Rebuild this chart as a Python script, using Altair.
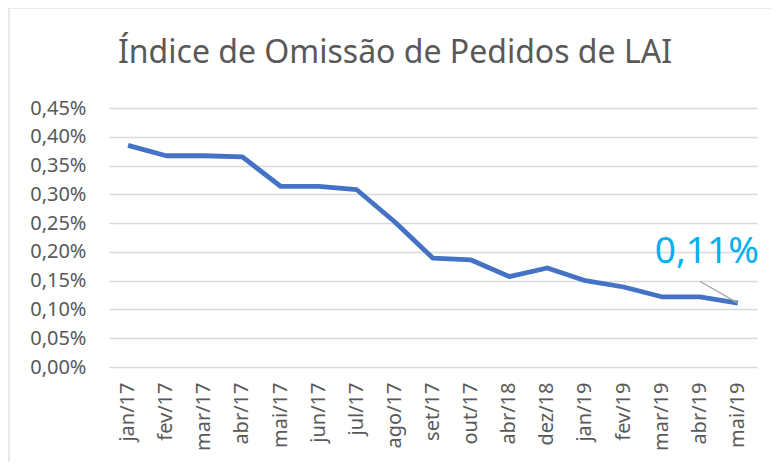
import altair as alt
import pandas as pd

months = ["jan/17", "fev/17", "mar/17", "abr/17", "mai/17", "jun/17", "jul/17",
          "ago/17", "set/17", "out/17", "abr/18", "dez/18", "jan/19", "fev/19",
          "mar/19", "abr/19", "mai/19"]
# values in percent
values = [0.385, 0.367, 0.367, 0.365, 0.314, 0.314, 0.308,
          0.252, 0.189, 0.186, 0.157, 0.172, 0.150, 0.139,
          0.122, 0.122, 0.111]
y_ticks = [0.0, 0.05, 0.10, 0.15, 0.20, 0.25, 0.30, 0.35, 0.40, 0.45]
label_text = ["0,11%"]
label_month = ["abr/19"]
label_y = [0.181]
leader_from = ["mai/19"]
leader_to = ["abr/19"]
leader_y = [0.111]
leader_y2 = [0.149]

df = pd.DataFrame({"mes": months, "valor": values})
ann = pd.DataFrame({"mes": label_month, "y": label_y, "t": label_text})
lead = pd.DataFrame({"a": leader_from, "b": leader_to, "y": leader_y, "y2": leader_y2})

FONT = "Noto Sans"
GREY = "#595959"

x_scale = alt.Scale(domain=months, paddingInner=0, paddingOuter=0)
x_enc = alt.X("mes:N", sort=months, scale=x_scale,
              axis=alt.Axis(title=None, labelAngle=-90, labelFont=FONT, labelFontSize=20,
                            labelColor=GREY, ticks=False, domain=False, labelPadding=15,
                            grid=False, labelOverlap=False))
y_scale = alt.Scale(domain=[0, 0.45], nice=False, zero=True)

frame = alt.Chart(df).mark_rect(filled=False, stroke="#d9d9d9", strokeWidth=1.2).encode(
    x=alt.value(-100), x2=alt.value(700), y=alt.value(-100), y2=alt.value(400)
).transform_filter("datum.mes == 'jan/17'")

line = alt.Chart(df).mark_line(color="#4472C4", strokeWidth=4.8, strokeJoin="round").encode(
    x=x_enc,
    y=alt.Y("valor:Q", scale=y_scale,
            axis=alt.Axis(title=None, values=y_ticks, tickCount=10, labelOverlap=False,
                          labelFont=FONT, labelFontSize=20,
                          labelColor=GREY, ticks=False, domain=False, labelPadding=23,
                          gridColor="#d9d9d9", gridWidth=1.3,
                          labelExpr="replace(format(datum.value, '.2f'), '.', ',') + '%'")),
)

leader = alt.Chart(lead).mark_rule(color="#a6a6a6", strokeWidth=1.3).encode(
    x=alt.X("a:N", sort=months, scale=x_scale),
    x2=alt.X2("b:N"),
    y=alt.Y("y:Q", scale=y_scale),
    y2="y2:Q",
)

label = alt.Chart(ann).mark_text(color="#00B0F0", font=FONT, fontSize=37,
                                 baseline="alphabetic", align="center", dx=7).encode(
    x=alt.X("mes:N", sort=months, scale=x_scale),
    y=alt.Y("y:Q", scale=y_scale),
    text="t:N",
)

chart = alt.layer(frame, line, leader, label).properties(
    width=648, height=259,
    title=alt.TitleParams("Índice de Omissão de Pedidos de LAI", font=FONT, fontSize=32,
                          fontWeight="normal", color=GREY, anchor="middle", dx=-38,
                          baseline="alphabetic", offset=0, dy=88),
    padding={"left": 101, "top": 100, "right": 14, "bottom": 95},
    autosize=alt.AutoSizeParams(type="none"),
    background="white",
).configure_view(stroke=None)

chart.save("out.html", embed_options={"renderer": "svg", "actions": False})
